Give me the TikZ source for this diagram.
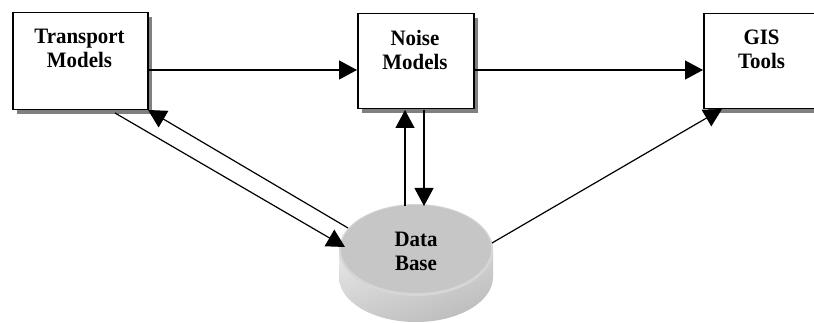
\documentclass[tikz,border=0pt]{standalone}
\usepackage{fontspec}
\setmainfont{Liberation Serif}
\newfontfamily\labelfont[FakeStretch=0.95]{Liberation Serif}
\usetikzlibrary{arrows.meta,calc}
\definecolor{shadowgray}{HTML}{808080}
\definecolor{dbtop}{HTML}{C6C6C6}
\definecolor{dbrim}{HTML}{D6D6D6}
\tikzset{
  box/.style={draw=black, line width=1.5pt, fill=white},
  boxshadow/.style={fill=shadowgray},
  label/.style={font=\labelfont\fontsize{22}{24}\selectfont\bfseries, align=center, inner sep=0pt, anchor=north},
  flow/.style={line width=1.2pt, -{Triangle[length=18pt,width=19pt]}},
}
\begin{document}
\begin{tikzpicture}[x=1pt,y=-1pt]
  \useasboundingbox (0,0) rectangle (814,323);
  \clip (0,0) rectangle (814,323);

  % box shadows
  \fill[boxshadow] (17,17) rectangle (152,114);
  \fill[boxshadow] (362,18) rectangle (478,113);
  \fill[boxshadow] (708,18) rectangle (826,113);

  % boxes
  \node[box, minimum width=135pt, minimum height=97pt, anchor=north west] (tm) at (12,12) {};
  \node[box, minimum width=116pt, minimum height=95pt, anchor=north west] (nm) at (357,13) {};
  \node[box, minimum width=117pt, minimum height=95pt, anchor=north west] (gis) at (703,13) {};

  \node[label] (tmtext) at (79.5,29) {Transport\\Models};
  \node[label] (nmtext) at (415,30) {Noise\\Models};
  \node[label] (gistext) at (761.5,30) {GIS\\Tools};

  % database cylinder: shaded side, then the top face
  \coordinate (dbc) at (416,250);
  \shade[top color=white!80!dbrim, bottom color=dbtop!95!black]
    (339,250) -- (339,277) arc[start angle=180, end angle=360, x radius=77, y radius=-45]
    -- (493,250) arc[start angle=0, end angle=180, x radius=77, y radius=-45] -- cycle;
  \shade[left color=white, right color=dbtop!85!black, opacity=0.25]
    (339,250) -- (339,277) arc[start angle=180, end angle=360, x radius=77, y radius=-45]
    -- (493,250) arc[start angle=0, end angle=180, x radius=77, y radius=-45] -- cycle;
  \fill[dbrim] (dbc) ellipse[x radius=77, y radius=46];
  \fill[dbtop] (416,249) ellipse[x radius=75, y radius=44];
  \node[label] (dbtext) at (416,232) {Data\\Base};

  % connector end points
  \coordinate (tmout) at (147,70);
  \coordinate (nmin) at (357,70);
  \coordinate (nmout) at (473,70);
  \coordinate (gisin) at (703,70);
  \coordinate (tmlow) at (115,113);
  \coordinate (dbleft) at (345,247);
  \coordinate (dbleftup) at (348,228);
  \coordinate (tmcorner) at (148,110);
  \coordinate (dbup) at (405,206);
  \coordinate (nmlow) at (405,110);
  \coordinate (nmdown) at (424,110);
  \coordinate (dbtopin) at (424,206);
  \coordinate (dbright) at (492,243);
  \coordinate (gislow) at (722,109);

  % connectors
  \draw[flow] (tmout) -- (nmin);
  \draw[flow] (nmout) -- (gisin);
  \draw[flow] (tmlow) -- (dbleft);
  \draw[flow] (dbleftup) -- (tmcorner);
  \draw[flow] (dbup) -- (nmlow);
  \draw[flow] (nmdown) -- (dbtopin);
  \draw[flow] (dbright) -- (gislow);
\end{tikzpicture}
\end{document}
